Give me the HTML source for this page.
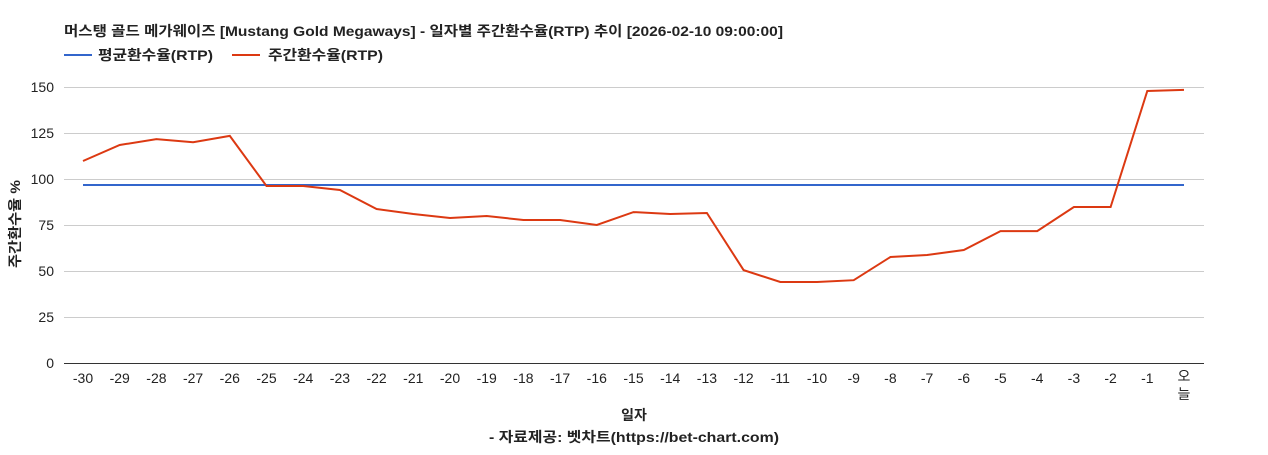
<!DOCTYPE html>
<html><head><meta charset="utf-8"><style>
body{margin:0;background:#fff;}
svg text{font-family:"Liberation Sans","Noto Sans CJK KR",sans-serif;}
</style></head><body>
<svg width="1268" height="450" xmlns="http://www.w3.org/2000/svg">
<rect width="1268" height="450" fill="#fff"/>
<text x="64" y="36" font-size="14" font-weight="bold" fill="#222" textLength="719" lengthAdjust="spacingAndGlyphs">머스탱 골드 메가웨이즈 [Mustang Gold Megaways] - 일자별 주간환수율(RTP) 추이 [2026-02-10 09:00:00]</text>
<line x1="64" y1="55" x2="92" y2="55" stroke="#3366cc" stroke-width="2"/>
<text x="98" y="60" font-size="14" font-weight="bold" fill="#222" textLength="115" lengthAdjust="spacingAndGlyphs">평균환수율(RTP)</text>
<line x1="232" y1="55" x2="260" y2="55" stroke="#dc3912" stroke-width="2"/>
<text x="268" y="60" font-size="14" font-weight="bold" fill="#222" textLength="115" lengthAdjust="spacingAndGlyphs">주간환수율(RTP)</text>
<g stroke="#ccc" stroke-width="1">
<line x1="64" y1="87.5" x2="1204" y2="87.5"/>
<line x1="64" y1="133.5" x2="1204" y2="133.5"/>
<line x1="64" y1="179.5" x2="1204" y2="179.5"/>
<line x1="64" y1="225.5" x2="1204" y2="225.5"/>
<line x1="64" y1="271.5" x2="1204" y2="271.5"/>
<line x1="64" y1="317.5" x2="1204" y2="317.5"/>
</g>
<line x1="64" y1="363.5" x2="1204" y2="363.5" stroke="#333"/>
<g font-size="14" fill="#222" text-anchor="end">
<text x="54" y="92">150</text><text x="54" y="138">125</text><text x="54" y="184">100</text>
<text x="54" y="230">75</text><text x="54" y="276">50</text><text x="54" y="322">25</text><text x="54" y="368">0</text>
</g>
<text transform="translate(20,224) rotate(-90)" font-size="14" font-weight="bold" fill="#222" text-anchor="middle" textLength="88" lengthAdjust="spacingAndGlyphs">주간환수율 %</text>
<g font-size="14" fill="#222" text-anchor="middle" id="xl"></g>
<line x1="83" y1="185" x2="1184" y2="185" stroke="#3366cc" stroke-width="2"/>
<polyline id="pl" fill="none" stroke="#dc3912" stroke-width="2" points=""/>
<text x="634" y="420" font-size="14" font-weight="bold" fill="#222" text-anchor="middle">일자</text>
<text x="634" y="442" font-size="14" font-weight="bold" fill="#222" text-anchor="middle" textLength="290" lengthAdjust="spacingAndGlyphs">- 자료제공: 벳차트(https://bet-chart.com)</text>
<script>
var v=[109.8,118.5,121.7,120,123.4,96.2,96.2,94,83.7,81,78.8,79.9,77.7,77.7,75,82,81,81.5,50.5,44,44,45,57.6,58.7,61.4,71.7,71.7,84.8,84.8,147.8,148.4];
var p=[],xl=document.getElementById('xl'),ns='http://www.w3.org/2000/svg';
for(var i=0;i<31;i++){var x=83+i*36.7;p.push(x.toFixed(1)+','+(363-v[i]*1.84).toFixed(1));
if(i<30){var t=document.createElementNS(ns,'text');t.setAttribute('x',x);t.setAttribute('y',383);t.textContent=(i-30);xl.appendChild(t);}
else{['오','늘'].forEach(function(c,j){var t=document.createElementNS(ns,'text');t.setAttribute('x',x);t.setAttribute('y',381+j*18);t.textContent=c;xl.appendChild(t);});}}
document.getElementById('pl').setAttribute('points',p.join(' '));
</script>
</svg>
</body></html>
